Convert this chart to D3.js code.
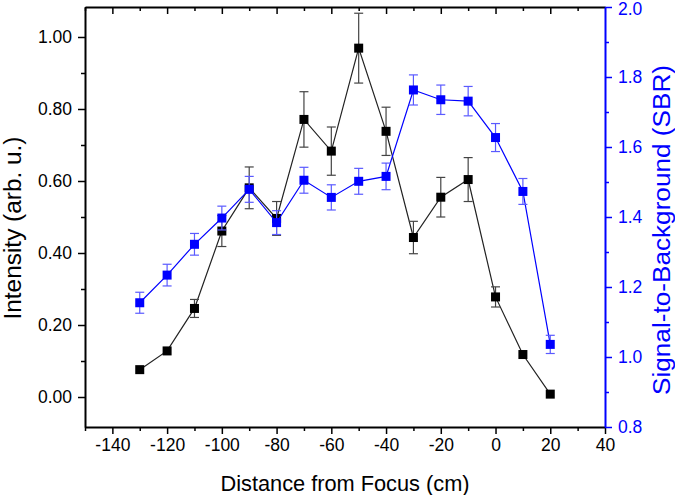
<!DOCTYPE html>
<html>
<head>
<meta charset="utf-8">
<script src="https://cdn.jsdelivr.net/npm/d3@7"></script>
<style>
  html, body { margin: 0; padding: 0; background: #fff; }
  svg { display: block; font-family: "Liberation Sans", Arial, sans-serif; }
</style>
</head>
<body>
<svg id="chart" width="675" height="495"></svg>
<script>
// ---- data ----
const distances = [-130, -120, -110, -100, -90, -80, -70, -60, -50, -40, -30, -20, -10, 0, 10, 20];
const intensity = [0.076, 0.128, 0.246, 0.461, 0.581, 0.496, 0.771, 0.683, 0.969, 0.738, 0.443, 0.555, 0.604, 0.278, 0.118, 0.008];
const intensityErr = [0.0, 0.0, 0.025, 0.043, 0.058, 0.047, 0.077, 0.067, 0.097, 0.067, 0.045, 0.055, 0.061, 0.028, 0.0, 0.0];
const sbr = [1.155, 1.234, 1.322, 1.397, 1.479, 1.384, 1.505, 1.456, 1.502, 1.516, 1.763, 1.735, 1.731, 1.627, 1.473, 1.036];
const sbrErr = [0.030, 0.031, 0.031, 0.034, 0.037, 0.034, 0.037, 0.036, 0.037, 0.038, 0.043, 0.042, 0.042, 0.040, 0.037, 0.026];

const xMajorTicks = [-140, -120, -100, -80, -60, -40, -20, 0, 20, 40];
const xMinorTicks = [-150, -130, -110, -90, -70, -50, -30, -10, 10, 30];
const yLeftMajor = [0, 0.2, 0.4, 0.6, 0.8, 1.0];
const yLeftMinor = [0.1, 0.3, 0.5, 0.7, 0.9];
const yRightMajor = [0.8, 1.0, 1.2, 1.4, 1.6, 1.8, 2.0];
const yRightMinor = [0.9, 1.1, 1.3, 1.5, 1.7, 1.9];

const xLabel = "Distance from Focus (cm)";
const yLeftLabel = "Intensity (arb. u.)";
const yRightLabel = "Signal-to-Background (SBR)";

// ---- layout ----
const L = 85, R = 605, T = 7, B = 427;
const BLUE = "#0000ff";
const svg = d3.select("#chart");

const x = d3.scaleLinear().domain([-150, 40]).range([L, R]);
const yL = d3.scaleLinear().domain([-0.0833, 1.0833]).range([B, T]);
const yR = d3.scaleLinear().domain([0.8, 2.0]).range([B, T]);

const tickFont = "17.5px";

function styleAxis(g, color) {
  g.selectAll("path.domain").attr("stroke", color).attr("stroke-width", 2);
  g.selectAll(".tick line").attr("stroke", color).attr("stroke-width", 1.5);
  g.selectAll(".tick text").attr("fill", color).style("font-size", tickFont)
    .style("font-family", '"Liberation Sans", Arial, sans-serif');
}

// bottom axis
const gB = svg.append("g").attr("transform", `translate(0,${B})`)
  .call(d3.axisBottom(x).tickValues(xMajorTicks).tickSize(7).tickPadding(5).tickSizeOuter(0).tickFormat(d3.format("d")));
styleAxis(gB, "#000");
gB.selectAll(".tick text").text(d => d < 0 ? "-" + Math.abs(d) : String(d));
const gBm = svg.append("g").attr("transform", `translate(0,${B})`)
  .call(d3.axisBottom(x).tickValues(xMinorTicks).tickSize(4).tickSizeOuter(0).tickFormat(""));
styleAxis(gBm, "#000");
gBm.select("path.domain").remove();

// top axis (inward ticks)
const gT = svg.append("g").attr("transform", `translate(0,${T})`)
  .call(d3.axisBottom(x).tickValues(xMajorTicks.filter(v => v < 40)).tickSize(7).tickSizeOuter(0).tickFormat(""));
styleAxis(gT, "#000");
const gTm = svg.append("g").attr("transform", `translate(0,${T})`)
  .call(d3.axisBottom(x).tickValues(xMinorTicks).tickSize(4).tickSizeOuter(0).tickFormat(""));
styleAxis(gTm, "#000");
gTm.select("path.domain").remove();

// left axis
const gL = svg.append("g").attr("transform", `translate(${L},0)`)
  .call(d3.axisLeft(yL).tickValues(yLeftMajor).tickSize(7).tickPadding(6).tickSizeOuter(0).tickFormat(d3.format(".2f")));
styleAxis(gL, "#000");
const gLm = svg.append("g").attr("transform", `translate(${L},0)`)
  .call(d3.axisLeft(yL).tickValues(yLeftMinor).tickSize(4).tickSizeOuter(0).tickFormat(""));
styleAxis(gLm, "#000");
gLm.select("path.domain").remove();

// right axis
const gR = svg.append("g").attr("transform", `translate(${R},0)`)
  .call(d3.axisRight(yR).tickValues(yRightMajor).tickSize(7).tickPadding(6).tickSizeOuter(0).tickFormat(d3.format(".1f")));
styleAxis(gR, BLUE);
gR.selectAll(".tick text").filter(d => d === 2.0).attr("y", 2);
const gRm = svg.append("g").attr("transform", `translate(${R},0)`)
  .call(d3.axisRight(yR).tickValues(yRightMinor).tickSize(4).tickSizeOuter(0).tickFormat(""));
styleAxis(gRm, BLUE);
gRm.select("path.domain").remove();

// axis titles
svg.append("text").attr("x", (L + R) / 2).attr("y", 491).attr("text-anchor", "middle")
  .attr("textLength", 249).attr("lengthAdjust", "spacingAndGlyphs")
  .style("font-size", "22px").attr("fill", "#000").text(xLabel);
svg.append("text").attr("transform", `translate(21,228) rotate(-90)`).attr("text-anchor", "middle")
  .attr("textLength", 183).attr("lengthAdjust", "spacingAndGlyphs")
  .style("font-size", "23px").attr("fill", "#000").text(yLeftLabel);
svg.append("text").attr("transform", `translate(670,230) rotate(-90)`).attr("text-anchor", "middle")
  .attr("textLength", 330).attr("lengthAdjust", "spacingAndGlyphs")
  .style("font-size", "23px").attr("fill", BLUE).text(yRightLabel);

// series drawing
function drawSeries(vals, errs, yScale, lineColor, errColor, fillColor) {
  const pts = distances.map((d, i) => ({ x: d, y: vals[i], e: errs[i] }));
  const g = svg.append("g");
  g.append("path").datum(pts)
    .attr("fill", "none").attr("stroke", lineColor).attr("stroke-width", 1.2)
    .attr("d", d3.line().x(d => x(d.x)).y(d => yScale(d.y)));
  const eb = g.selectAll("g.err").data(pts.filter(p => p.e > 0)).enter().append("g");
  eb.append("line").attr("x1", d => x(d.x)).attr("x2", d => x(d.x))
    .attr("y1", d => yScale(d.y - d.e)).attr("y2", d => yScale(d.y + d.e))
    .attr("stroke", errColor).attr("stroke-width", 1.2);
  [1, -1].forEach(s => {
    eb.append("line").attr("x1", d => x(d.x) - 4.5).attr("x2", d => x(d.x) + 4.5)
      .attr("y1", d => yScale(d.y + s * d.e)).attr("y2", d => yScale(d.y + s * d.e))
      .attr("stroke", errColor).attr("stroke-width", 1.2);
  });
  g.selectAll("rect").data(pts).enter().append("rect")
    .attr("x", d => x(d.x) - 4.5).attr("y", d => yScale(d.y) - 4.5)
    .attr("width", 9).attr("height", 9).attr("fill", fillColor);
}

drawSeries(intensity, intensityErr, yL, "#222", "#444", "#000");
drawSeries(sbr, sbrErr, yR, BLUE, "#5a5aff", BLUE);
</script>
</body>
</html>
